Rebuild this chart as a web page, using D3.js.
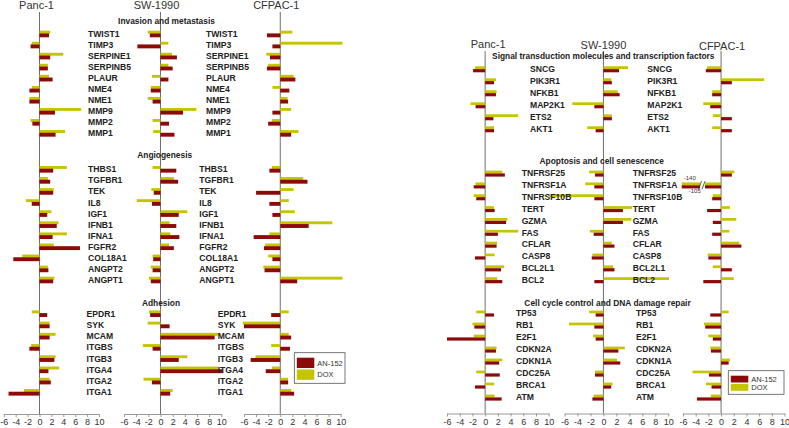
<!DOCTYPE html>
<html><head><meta charset="utf-8">
<script src="https://cdn.jsdelivr.net/npm/d3@7"></script>
<style>body{margin:0;background:#fff}svg{display:block}text{font-family:"Liberation Sans",Arial,sans-serif}</style>
</head><body><svg id="c" width="789" height="428"></svg>
<script>
const cellLines = ["Panc-1","SW-1990","CFPAC-1"];
const tickValues = [-6,-4,-2,0,2,4,6,8,10];
const seriesNames = ["AN-152","DOX"];

// ---------- left panel ----------
const invasionTitle = "Invasion and metastasis";
const invasionGenes = ["TWIST1","TIMP3","SERPINE1","SERPINB5","PLAUR","NME4","NME1","MMP9","MMP2","MMP1"];
const invasionPanc1DOX  = [1.8,-1.3,4.0,1.4,1.6,-1.3,-1.7,7.0,-1.5,4.3];
const invasionPanc1AN   = [1.6,-1.5,1.8,1.4,2.2,-1.7,-1.7,2.6,-1.2,2.7];
const invasionSW1990DOX = [-2.1,1.3,1.9,1.3,-1.4,-1.6,-2.1,5.9,-1.3,-1.2];
const invasionSW1990AN  = [-1.75,-3.8,2.7,2.0,1.3,-1.6,-1.3,3.7,1.4,2.3];
const invasionCFPAC1DOX = [2.0,10.3,-2.3,-2.0,2.2,-1.3,1.2,1.8,-1.4,3.0];
const invasionCFPAC1AN  = [-2.2,-1.3,-1.7,-2.2,2.5,1.5,1.3,-1.3,-2.0,1.8];

const angioTitle = "Angiogenesis";
const angioGenes = ["THBS1","TGFBR1","TEK","IL8","IGF1","IFNB1","IFNA1","FGFR2","COL18A1","ANGPT2","ANGPT1"];
const angioPanc1DOX  = [4.6,1.4,2.4,-2.3,2.0,3.2,4.6,2.4,-2.9,1.4,2.5];
const angioPanc1AN   = [2.3,1.8,2.3,-1.3,1.3,2.9,2.2,6.8,-4.4,1.5,2.3];
const angioSW1990DOX = [-1.3,2.2,-1.5,-3.9,4.4,1.5,1.6,1.4,-1.3,-1.6,-1.9];
const angioSW1990AN  = [2.6,2.9,-1.1,-1.4,3.0,2.6,3.1,2.2,-1.2,-1.3,-1.6];
const angioCFPAC1DOX = [-1.4,3.8,2.2,1.4,2.4,8.6,-1.8,-2.5,-2.0,-2.8,10.3];
const angioCFPAC1AN  = [-1.8,4.5,-4.0,-1.8,-1.3,4.7,-4.4,-2.7,-1.3,-2.6,2.8];

const adhesionTitle = "Adhesion";
const adhesionGenes = ["EPDR1","SYK","MCAM","ITGBS","ITGB3","ITGA4","ITGA2","ITGA1"];
const adhesionPanc1DOX  = [-1.3,1.7,2.7,-1.4,2.7,3.3,1.7,-2.6];
const adhesionPanc1AN   = [1.3,1.7,1.7,-1.7,2.5,1.5,1.9,-5.2];
const adhesionSW1990DOX = [-1.9,-2.1,9.6,-2.9,4.4,9.5,-2.8,2.0];
const adhesionSW1990AN  = [-1.7,1.5,8.9,-1.3,3.0,10.3,-1.4,1.6];
const adhesionCFPAC1DOX = [1.4,-6.2,1.4,-1.5,-4.1,-1.4,1.3,1.8];
const adhesionCFPAC1AN  = [-1.5,-6.0,1.8,1.6,-4.9,-2.4,1.3,2.3];

// ---------- right panel ----------
const signalTitle = "Signal transduction molecules and transcription factors";
const signalGenes = ["SNCG","PIK3R1","NFKB1","MAP2K1","ETS2","AKT1"];
const signalPanc1DOX  = [-1.6,1.7,1.8,-2.3,5.2,1.4];
const signalPanc1AN   = [-1.9,1.4,1.7,-1.5,1.3,1.4];
const signalSW1990DOX = [3.8,1.2,2.2,-4.8,1.3,-2.5];
const signalSW1990AN  = [2.4,1.3,2.5,-1.4,1.3,-1.2];
const signalCFPAC1DOX = [-2.2,6.8,-1.4,-2.8,-1.3,-1.4];
const signalCFPAC1AN  = [-2.4,1.7,-1.4,-1.7,1.7,1.7];

const apoptosisTitle = "Apoptosis and cell senescence";
const apoptosisGenes = ["TNFRSF25","TNFRSF1A","TNFRSF10B","TERT","GZMA","FAS","CFLAR","CASP8","BCL2L1","BCL2"];
const apoptosisPanc1DOX  = [2.7,-1.5,-1.8,1.4,3.5,5.2,1.9,1.5,3.0,1.9];
const apoptosisPanc1AN   = [3.1,-1.8,-1.4,1.5,3.3,2.0,1.8,-1.6,2.5,2.7];
const apoptosisSW1990DOX = [-2.2,-2.8,-8.3,4.4,4.3,-2.1,1.3,-1.7,1.5,10.1];
const apoptosisSW1990AN  = [-1.3,-1.4,-1.4,3.0,3.0,-1.5,1.7,-1.8,1.7,-1.4];
const apoptosisCFPAC1DOX = [2.1,-140,-1.3,1.4,2.4,1.3,2.9,-2.1,-1.3,2.0];
const apoptosisCFPAC1AN  = [1.7,-105,-1.4,-2.2,-1.3,-1.4,3.2,-2.0,1.7,-2.8];

const cycleTitle = "Cell cycle control and DNA damage repair";
const cycleGenes = ["TP53","RB1","E2F1","CDKN2A","CDKN1A","CDC25A","BRCA1","ATM"];
const cyclePanc1DOX  = [-1.4,-2.0,-1.8,1.8,2.7,-1.4,1.4,1.5];
const cyclePanc1AN   = [1.4,-1.7,-6.0,1.7,2.2,2.3,-1.6,2.6];
const cycleSW1990DOX = [-2.2,-5.3,-1.6,3.3,2.1,-1.3,1.4,-1.5];
const cycleSW1990AN  = [-1.2,-1.4,-1.2,2.3,2.6,-1.3,1.2,-1.7];
const cycleCFPAC1DOX = [1.2,-2.7,-2.0,-1.7,1.4,-4.5,-2.4,-1.6];
const cycleCFPAC1AN  = [-1.7,-2.5,-1.3,-1.6,1.2,-1.9,-1.5,-3.8];

const COL_AN = "#8c0a0a", COL_DOX = "#c4c400";
const BREAK_AT = 20;          // |value| above this is drawn as a broken bar
const BREAK_END = 6.2;        // magnitude where a broken bar stops
const svg = d3.select("#c");

const panels = [
  { ranges: [[3.8,99.0],[124,221.3],[244,340.7]], lineTop: 12, axisY: 414,
    titleY: [8.5,8.5,8.5], titleDx: [-3,-4,-4],
    bar: {dy:-3.3, dh:2.9, ry:-0.6, rh:3.9},
    legend: {x:294.3, y:352.7, w:50.7, h:30.6},
    sections: [
      {title: invasionTitle, tx:166.5, ty:21, start:34, pitch:11.04, labelX:[88,206], genes: invasionGenes,
       dox:[invasionPanc1DOX,invasionSW1990DOX,invasionCFPAC1DOX], an:[invasionPanc1AN,invasionSW1990AN,invasionCFPAC1AN]},
      {title: angioTitle, tx:164.7, ty:155.3, start:169.3, pitch:11.07, labelX:[88,199.3], genes: angioGenes,
       dox:[angioPanc1DOX,angioSW1990DOX,angioCFPAC1DOX], an:[angioPanc1AN,angioSW1990AN,angioCFPAC1AN]},
      {title: adhesionTitle, tx:161, ty:303.3, start:313.7, pitch:11.23, labelX:[86.5,217.7], genes: adhesionGenes,
       dox:[adhesionPanc1DOX,adhesionSW1990DOX,adhesionCFPAC1DOX], an:[adhesionPanc1AN,adhesionSW1990AN,adhesionCFPAC1AN]}
    ]},
  { ranges: [[447,548.7],[564.5,668.3],[683,784.5]], lineTop: 51, axisY: 413.5,
    titleY: [47.5,49,50], titleDx: [3,0,1],
    bar: {dy:-2.7, dh:2.7, ry:0.1, rh:3.2},
    legend: {x:728.3, y:370.7, w:55.7, h:23.6},
    sections: [
      {title: signalTitle, tx:603.3, ty:56, start:69, pitch:12.0, labelX:[530,647.3], genes: signalGenes,
       dox:[signalPanc1DOX,signalSW1990DOX,signalCFPAC1DOX], an:[signalPanc1AN,signalSW1990AN,signalCFPAC1AN]},
      {title: apoptosisTitle, tx:601.7, ty:160.7, start:173.3, pitch:11.85, labelX:[521.7,632.7], genes: apoptosisGenes,
       dox:[apoptosisPanc1DOX,apoptosisSW1990DOX,apoptosisCFPAC1DOX], an:[apoptosisPanc1AN,apoptosisSW1990AN,apoptosisCFPAC1AN]},
      {title: cycleTitle, tx:607.5, ty:302.7, start:313.3, pitch:12.0, labelX:[516,636], genes: cycleGenes,
       dox:[cyclePanc1DOX,cycleSW1990DOX,cycleCFPAC1DOX], an:[cyclePanc1AN,cycleSW1990AN,cycleCFPAC1AN]}
    ]}
];

const isBroken = v => Math.abs(v) > BREAK_AT;
const shown = v => isBroken(v) ? (v < 0 ? -BREAK_END : BREAK_END) : v;

panels.forEach(p => {
  const xs = p.ranges.map(r => d3.scaleLinear().domain([-6,10]).range(r));
  const g = svg.append("g");
  xs.forEach((x, ci) => {
    g.append("line").attr("x1", x(0)).attr("x2", x(0)).attr("y1", p.lineTop).attr("y2", p.axisY)
      .attr("stroke", "#6e6e6e").attr("stroke-width", 1);
    g.append("text").attr("x", x(0) + p.titleDx[ci]).attr("y", p.titleY[ci]).attr("text-anchor", "middle")
      .attr("font-size", 11).attr("fill", "#333").text(cellLines[ci]);
    const ax = g.append("g").attr("transform", `translate(0,${p.axisY})`)
      .call(d3.axisBottom(x).tickValues(tickValues).tickSize(3).tickSizeOuter(0).tickFormat(d => String(d)));
    ax.select(".domain").attr("stroke", "#999");
    ax.selectAll(".tick line").attr("stroke", "#999");
    ax.selectAll(".tick text").attr("font-size", 9).attr("fill", "#333").attr("dy", "0.6em")
      .style("font-family", '"Liberation Sans",Arial,sans-serif');
  });
  p.sections.forEach(s => {
    const y = d3.scaleLinear().domain([0, s.genes.length - 1])
      .range([s.start, s.start + (s.genes.length - 1) * s.pitch]);
    g.append("text").attr("x", s.tx).attr("y", s.ty).attr("text-anchor", "middle").attr("dominant-baseline", "central")
      .attr("font-size", 8.4).attr("font-weight", "bold").attr("fill", "#222").text(s.title);
    xs.forEach((x, ci) => {
      const bars = (vals, dy, h, col) => g.append("g").selectAll("rect").data(vals).join("rect")
        .attr("x", v => Math.min(x(0), x(shown(v))))
        .attr("width", v => Math.abs(x(shown(v)) - x(0)))
        .attr("y", (v, i) => y(i) + dy).attr("height", h).attr("fill", col);
      bars(s.dox[ci], p.bar.dy, p.bar.dh, COL_DOX);
      bars(s.an[ci], p.bar.ry, p.bar.rh, COL_AN);
      s.genes.forEach((gn, i) => {
        const d = s.dox[ci][i], a = s.an[ci][i];
        if (isBroken(d) || isBroken(a)) {
          const bx = x(-3.0), by = y(i);
          g.append("rect").attr("x", bx - 2).attr("y", by - 4).attr("width", 5).attr("height", 8).attr("fill", "#fff");
          [-2, 1.5].forEach(off => g.append("line").attr("x1", bx + off - 1.5).attr("x2", bx + off + 1.5)
            .attr("y1", by + 4).attr("y2", by - 4).attr("stroke", "#333").attr("stroke-width", 0.8));
          g.append("text").attr("x", x(-BREAK_END) + 2).attr("y", by - 5).attr("font-size", 6).attr("fill", "#333").text(String(d));
          g.append("text").attr("x", x(-BREAK_END) + 7).attr("y", by + 7.5).attr("font-size", 6).attr("fill", "#333").text(String(a));
        }
      });
    });
    s.labelX.forEach(lx => {
      g.append("g").selectAll("text").data(s.genes).join("text")
        .attr("x", lx).attr("y", (d, i) => y(i)).attr("dominant-baseline", "central")
        .attr("font-size", 8.6).attr("font-weight", "bold").attr("fill", "#222").text(d => d);
    });
  });
  const L = p.legend;
  const lg = g.append("g");
  lg.append("rect").attr("x", L.x).attr("y", L.y).attr("width", L.w).attr("height", L.h)
    .attr("fill", "#fff").attr("stroke", "#555").attr("stroke-width", 0.8);
  const sh = (L.h - 9) / 2;
  [[seriesNames[0], COL_AN], [seriesNames[1], COL_DOX]].forEach(([nm, c], k) => {
    const yy = L.y + 5 + k * (sh + 1);
    lg.append("rect").attr("x", L.x + 2.5).attr("y", yy).attr("width", 17.5).attr("height", sh - 0.5).attr("fill", c);
    lg.append("text").attr("x", L.x + 23).attr("y", yy + sh / 2).attr("dominant-baseline", "central")
      .attr("font-size", 7.5).attr("fill", "#333").text(nm);
  });
});
</script></body></html>
